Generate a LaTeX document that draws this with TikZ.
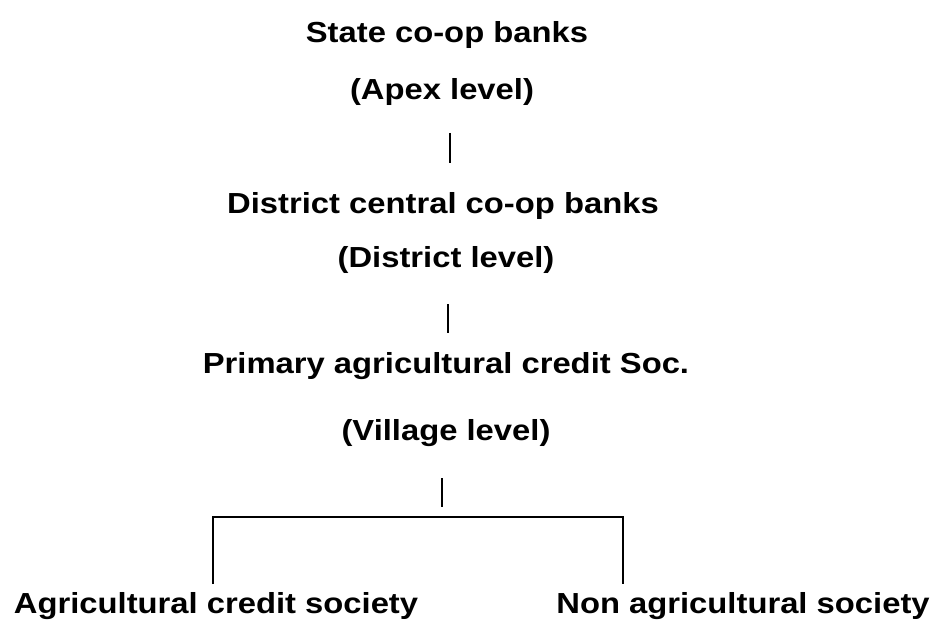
\documentclass[tikz,border=0pt]{standalone}
\usepackage{fontspec}
\setmainfont{Liberation Sans}[BoldFeatures={FakeStretch=1.13}]
\usepackage{tikz}
\usetikzlibrary{calc}

\begin{document}
\begin{tikzpicture}[x=1pt, y=-1pt,
		level/.style={anchor=base, inner sep=0pt, font=\fontsize{29}{30}\selectfont\bfseries},
		bar/.style={line width=1.8pt}]
		\useasboundingbox (0,0) rectangle (940,623);

		\begin{scope}
			\node [level] (state) at (447,43) {State co-op banks};
			\node [level] (apex) at (442,100) {(Apex level)};
			\node [level] (district) at (443,213) {District central co-op banks};
			\node [level] (distlevel) at (446,267) {(District level)};
			\node [level] (primary) at (446,373) {Primary agricultural credit Soc.};
			\node [level] (village) at (446,440) {(Village level)};
		\end{scope}

		\begin{scope}
			\draw [bar] ($ (apex.base) + (8,33) $) -- ($ (district.base) + (7,-50) $);
			\draw [bar] ($ (distlevel.base) + (2,37) $) -- ($ (primary.base) + (2,-40) $);
			\coordinate (branch) at ($ (village.base) + (-4,77) $);
			\draw [bar] ($ (village.base) + (-4,38) $) -- ($ (branch) + (0,-10) $);
		\end{scope}

		\begin{scope}
			\node [level] (agri) at (216,613) {Agricultural credit society};
			\node [level] (nonagri) at (743,613) {Non agricultural society};
			\coordinate (leftend) at (213,584);
			\coordinate (rightend) at (623,584);
			\draw [bar] (leftend) |- (branch -| rightend) -- (rightend);
		\end{scope}
	\end{tikzpicture}
\end{document}
